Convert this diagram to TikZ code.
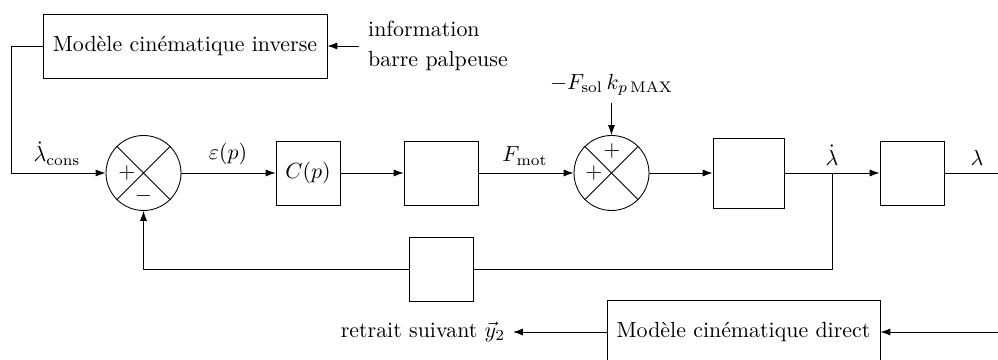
\documentclass[tikz,border=0pt]{standalone}
\usetikzlibrary{arrows.meta}
\newlength\pxu
\setlength\pxu{0.4566pt}
\begin{document}
\begin{tikzpicture}[x=0.4566pt,y=-0.4566pt,
  arr/.style={-{Latex[length=4.5pt,width=3.2pt]}},
  blk/.style={draw, inner sep=0pt, anchor=center},
  sumc/.style={draw, circle, minimum size=75\pxu, inner sep=0pt},
  lbl/.style={anchor=south},
  sgn/.style={inner sep=0pt}]
\useasboundingbox (0,0) rectangle (998,360);
\clip (0,0) rectangle (998,360);
% blocks
\node[blk, minimum width=284\pxu, minimum height=64\pxu] (mci) at (185,46) {Modèle cinématique inverse};
\node[anchor=west, align=left, inner sep=4pt] (info) at (359,46) {information\\[2pt]barre palpeuse};
\node[sumc] (s1) at (143.5,173) {};
\node[blk, minimum width=64\pxu, minimum height=64\pxu] (C) at (308,173) {$C(p)$};
\node[blk, minimum width=74\pxu, minimum height=64\pxu] (B2) at (441,173) {};
\node[sumc] (s2) at (611.5,173) {};
\node[blk, minimum width=71\pxu, minimum height=70\pxu] (B3) at (748.5,173) {};
\node[blk, minimum width=64\pxu, minimum height=64\pxu] (B4) at (912,173) {};
\node[blk, minimum width=64\pxu, minimum height=64\pxu] (FB) at (441,269) {};
\node[blk, minimum width=273\pxu, minimum height=64\pxu] (MCD) at (743.5,332) {Modèle cinématique direct};
\node[anchor=east] (ret) at (513,332) {retrait suivant $\vec{y}_2$};
\node (fs) at (611.5,85) {$-F_{\mathrm{sol}}\,k_{p\,\mathrm{MAX}}$};
% crosses in summing junctions
\draw (s1.north west) -- (s1.south east) (s1.north east) -- (s1.south west);
\draw (s2.north west) -- (s2.south east) (s2.north east) -- (s2.south west);
\node[sgn] (s1p) at (127,173) {$+$};
\node[sgn] (s1m) at (143.5,196) {$-$};
\node[sgn] (s2p) at (612,151) {$+$};
\node[sgn] (s2q) at (594,173) {$+$};
% coordinates
\coordinate (cL) at (11,173);
\coordinate (br) at (832,173);
\coordinate (out) at (998,173);
\coordinate (inR) at (998,332);
% connectors
\draw[arr] (info.west) -- (mci.east);
\draw[arr] (mci.west) -| (cL) -- (s1.west);
\draw[arr] (s1.east) -- (C.west);
\draw[arr] (C.east) -- (B2.west);
\draw[arr] (B2.east) -- (s2.west);
\draw[arr] (fs.south) -- (s2.north);
\draw[arr] (s2.east) -- (B3.west);
\draw[arr] (B3.east) -- (B4.west);
\draw (B4.east) -- (out);
\draw (br) |- (FB.east);
\draw[arr] (FB.west) -| (s1.south);
\draw[arr] (inR) -- (MCD.east);
\draw[arr] (MCD.west) -- (ret.east);
% labels
\node[lbl] (l1) at (57,173) {$\dot{\lambda}_{\mathrm{cons}}$};
\node[lbl] (l2) at (228,173) {$\varepsilon(p)$};
\node[lbl] (l3) at (525,173) {$F_{\mathrm{mot}}$};
\node[lbl] (l4) at (832,173) {$\dot{\lambda}$};
\node[lbl] (l5) at (977,173) {$\lambda$};
\end{tikzpicture}
\end{document}
